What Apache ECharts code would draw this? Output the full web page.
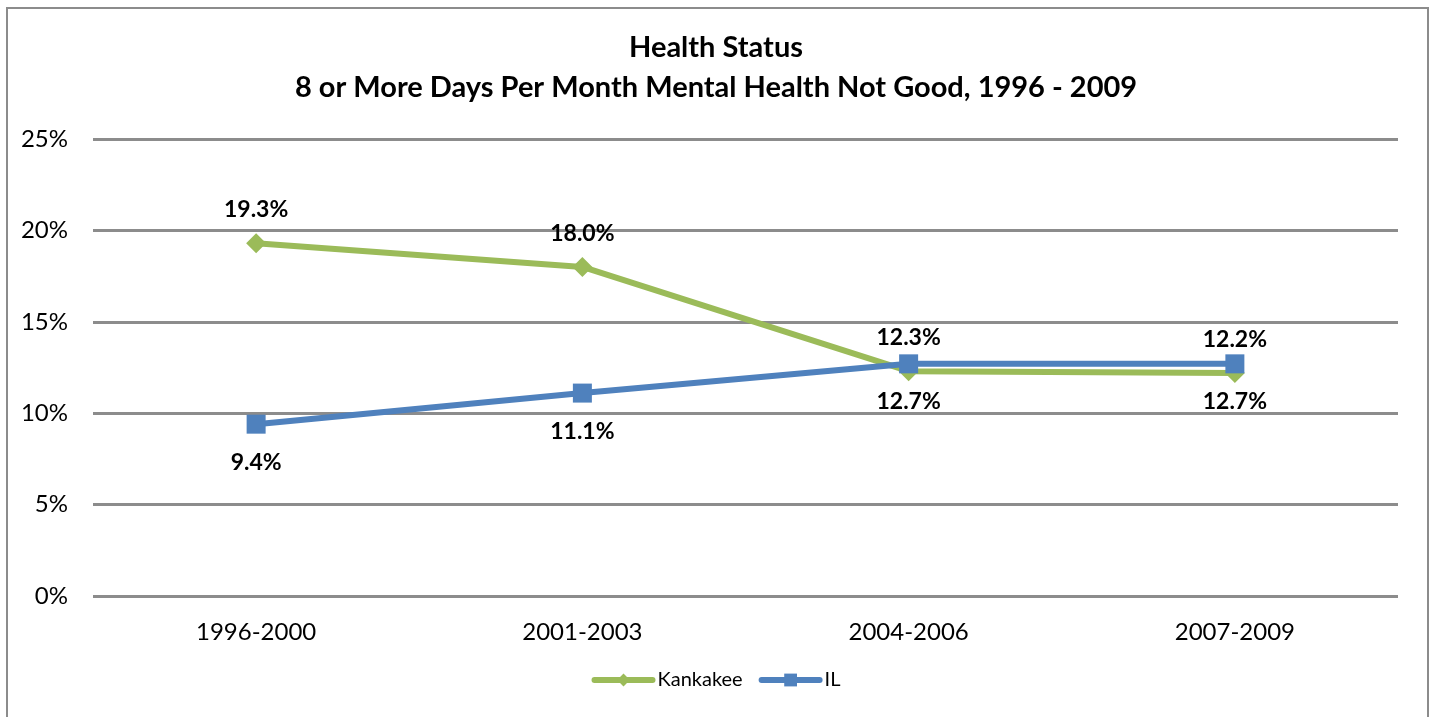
<!DOCTYPE html>
<html><head><meta charset="utf-8">
<script src="https://cdn.jsdelivr.net/npm/echarts@6/dist/echarts.min.js"></script>
<style>html,body{margin:0;padding:0;background:#fff}#c{width:1432px;height:717px}</style>
</head><body><div id="c"></div>
<script>
const categories = ['1996-2000','2001-2003','2004-2006','2007-2009'];
const kankakee = [19.3, 18.0, 12.3, 12.2];
const il = [9.4, 11.1, 12.7, 12.7];
const titleLines = ['Health Status', '8 or More Days Per Month Mental Health Not Good, 1996 - 2009'];
const FONT = 'Lato, "Open Sans", sans-serif';
const chart = echarts.init(document.getElementById('c'));
chart.setOption({
  animation: false,
  textStyle: {fontFamily: FONT},
  graphic: [{type:'rect', shape:{x:7, y:8, width:1421, height:720}, style:{fill:'none', stroke:'#8c8c8c', lineWidth:2}, silent:true, z:-1}],
  title: {text: titleLines.join('\n'), left: 'center', top: 23,
    textStyle: {fontFamily: FONT, fontSize: 29, fontWeight: 'bold', color: '#000', lineHeight: 40}},
  legend: {bottom: 22, left: 'center', itemWidth: 58, itemHeight: 16, itemGap: 16,
    lineStyle: {width: 6, cap: 'round'},
    textStyle: {fontFamily: FONT, fontSize: 20, color: '#000'},
    data: ['Kankakee', 'IL']},
  grid: {left: 93, right: 34, top: 139, bottom: 121},
  xAxis: {type:'category', data: categories, boundaryGap: true,
    axisLine:{show:false}, axisTick:{show:false},
    axisLabel:{fontFamily: FONT, fontSize: 24, color:'#000', margin: 24}},
  yAxis: {type:'value', min:0, max:25, interval:5,
    axisLabel:{formatter:'{value}%', fontFamily: FONT, fontSize: 24, color:'#000', margin: 25},
    axisLine:{show:false}, axisTick:{show:false},
    splitLine:{lineStyle:{color:'#8c8c8c', width:3}}},
  series: [
    {name:'Kankakee', type:'line', data: kankakee, symbol:'diamond', symbolSize:20,
     lineStyle:{color:'#9BBB59', width:6}, itemStyle:{color:'#9BBB59'},
     label:{show:true, position:'top', distance: 12, formatter: p => p.value.toFixed(1)+'%',
       fontFamily: FONT, fontSize: 23, fontWeight:'bold', color:'#000'}},
    {name:'IL', type:'line', data: il, symbol:'rect', symbolSize:19,
     lineStyle:{color:'#4F81BD', width:6}, itemStyle:{color:'#4F81BD'},
     label:{show:true, position:'bottom', distance: 17, formatter: p => p.value.toFixed(1)+'%',
       fontFamily: FONT, fontSize: 23, fontWeight:'bold', color:'#000'}}
  ]
});
</script></body></html>
